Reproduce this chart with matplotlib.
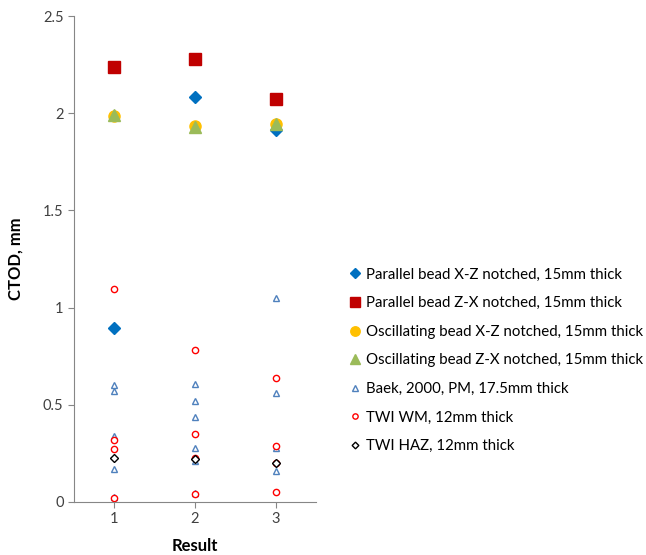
import numpy as np
from matplotlib import pyplot as plt

plt.rcParams['font.family'] = ['Lato', 'DejaVu Sans']

# result index for each group
x_main = [1, 2, 3]

par_xz = [0.895, 2.085, 1.915]
par_zx = [2.236, 2.279, 2.073]
osc_xz = [1.988, 1.932, 1.944]
osc_zx = [1.990, 1.930, 1.945]

baek_x = [1, 1, 1, 1, 1, 2, 2, 2, 2, 2, 2, 3, 3, 3, 3]
baek_y = [0.602, 0.573, 0.341, 0.170, 0.024,
          0.607, 0.521, 0.437, 0.276, 0.211, 0.048,
          1.048, 0.561, 0.276, 0.159]

twi_wm_x = [1, 1, 1, 1, 2, 2, 2, 2, 3, 3, 3, 3]
twi_wm_y = [1.097, 0.319, 0.271, 0.019,
            0.784, 0.350, 0.228, 0.040,
            0.638, 0.290, 0.199, 0.050]

twi_haz_x = [1, 2, 3]
twi_haz_y = [0.225, 0.221, 0.199]

labels = ['Parallel bead X-Z notched, 15mm thick',
          'Parallel bead Z-X notched, 15mm thick',
          'Oscillating bead X-Z notched, 15mm thick',
          'Oscillating bead Z-X notched, 15mm thick',
          'Baek, 2000, PM, 17.5mm thick',
          'TWI WM, 12mm thick',
          'TWI HAZ, 12mm thick']

fig = plt.figure(figsize=(6.46, 5.55), dpi=100)
ax = fig.add_axes([0.1146, 0.0955, 0.3746, 0.8755])

h = []
h.append(ax.plot(x_main, par_xz, 'D', color='#0070C0', markersize=6, ls='none')[0])
h.append(ax.plot(x_main, par_zx, 's', color='#C00000', markersize=8, ls='none')[0])
h.append(ax.plot(x_main, osc_xz, 'o', color='#FFC000', markersize=8, ls='none')[0])
h.append(ax.plot(x_main, osc_zx, '^', color='#9BBB59', markersize=8, ls='none')[0])
h.append(ax.plot(baek_x, baek_y, '^', mfc='white', mec='#4F81BD', mew=1.0,
                 markersize=4.5, ls='none')[0])
h.append(ax.plot(twi_wm_x, twi_wm_y, 'o', mfc='white', mec='#FF0000', mew=1.0,
                 markersize=4.5, ls='none')[0])
h.append(ax.plot(twi_haz_x, twi_haz_y, 'D', mfc='white', mec='black', mew=1.0,
                 markersize=4, ls='none')[0])

ax.set_xlim(0.5, 3.5)
ax.set_ylim(0, 2.5)
ax.set_xticks([1, 2, 3])
ax.set_yticks([0, 0.5, 1, 1.5, 2, 2.5])
ax.set_yticklabels(['0', '0.5', '1', '1.5', '2', '2.5'])
ax.tick_params(colors='#868686', labelcolor='#404040', labelsize=10.5, length=4)

for side in ['top', 'right']:
    ax.spines[side].set_visible(False)
for side in ['left', 'bottom']:
    ax.spines[side].set_color('#868686')

ax.set_ylabel('CTOD, mm', fontsize=12, fontweight='bold', labelpad=14)
ax.set_xlabel('Result', fontsize=12, fontweight='bold', labelpad=8)

fig.legend(h, labels, loc='upper left', bbox_to_anchor=(0.515, 0.542),
           frameon=False, fontsize=10.8, handletextpad=0.1, labelspacing=0.97,
           handlelength=1.2, markerscale=0.85)

fig.savefig('out.png', dpi=100)
